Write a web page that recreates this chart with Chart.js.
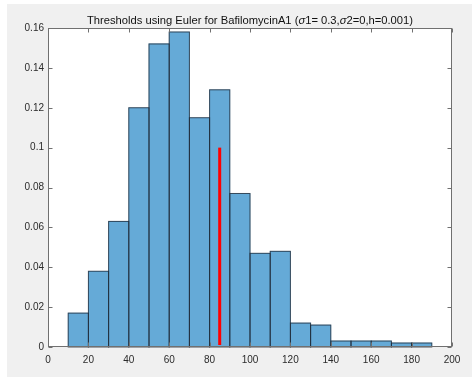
<!DOCTYPE html>
<html>
<head>
<meta charset="utf-8">
<script src="https://cdn.jsdelivr.net/npm/chart.js@4.4.1/dist/chart.umd.min.js"></script>
<style>
  html, body { margin: 0; padding: 0; background: #ffffff; }
  #wrap { position: relative; width: 472px; height: 377px; }
  canvas { display: block; }
</style>
</head>
<body>
<div id="wrap"><canvas id="c" width="472" height="377"></canvas></div>
<script>
// Histogram bins (left edges, width 10) and normalized counts
const binEdges = [10, 20, 30, 40, 50, 60, 70, 80, 90, 100, 110, 120, 130, 140, 150, 160, 170, 180];
const binWidth = 10;
const probabilities = [0.017, 0.038, 0.063, 0.120, 0.152, 0.158, 0.115, 0.129, 0.077, 0.047, 0.048, 0.012, 0.011, 0.003, 0.003, 0.003, 0.002, 0.002];

// Threshold marker
const thresholdX = 85;
const thresholdY = [0.001, 0.1];

// Axis ticks
const xTicks = [0, 20, 40, 60, 80, 100, 120, 140, 160, 180, 200];
const yTicks = [0, 0.02, 0.04, 0.06, 0.08, 0.1, 0.12, 0.14, 0.16];

const titleParts = [
  { t: 'Thresholds using Euler for BafilomycinA1 (', italic: false },
  { t: 'σ', italic: true },
  { t: '1= 0.3,', italic: false },
  { t: 'σ', italic: true },
  { t: '2=0,h=0.001)', italic: false }
];

const FONT = '"Liberation Sans", Arial, Helvetica, sans-serif';
const TEXT = '#2b2b2b';
const AXIS = '#707070';

const histData = binEdges.map((e, i) => ({ x: e + binWidth / 2, y: probabilities[i] }));
const lineData = thresholdY.map(y => ({ x: thresholdX, y }));

// Figure background, axes box, tick marks, bar outlines and title
const figurePlugin = {
  id: 'figure',
  beforeDraw(chart) {
    const { ctx, chartArea: a } = chart;
    ctx.save();
    ctx.fillStyle = '#ffffff';
    ctx.fillRect(0, 0, chart.width, chart.height);
    ctx.fillStyle = '#f0f0f0';
    ctx.fillRect(7, 4, chart.width - 7, chart.height - 4);
    ctx.fillStyle = '#ffffff';
    ctx.fillRect(a.left, a.top, a.right - a.left, a.bottom - a.top);
    ctx.restore();
  },
  afterDatasetDraw(chart, args) {
    if (args.index !== 0) return;
    const { ctx } = chart;
    const meta = chart.getDatasetMeta(0);
    ctx.save();
    ctx.strokeStyle = 'rgba(30,40,52,0.78)';
    ctx.lineWidth = 1;
    meta.data.forEach(bar => {
      const p = bar.getProps(['x', 'y', 'base', 'width'], true);
      const l = p.x - p.width / 2, r = p.x + p.width / 2;
      ctx.strokeRect(l, p.y, r - l, p.base - p.y);
    });
    ctx.restore();
  },
  afterDraw(chart) {
    const { ctx, chartArea: a, scales } = chart;
    ctx.save();
    ctx.strokeStyle = AXIS;
    ctx.lineWidth = 1;
    const L = Math.round(a.left) + 0.5, R = Math.round(a.right) - 0.5;
    const T = Math.round(a.top) + 0.5, B = Math.round(a.bottom) - 0.5;
    ctx.strokeRect(L, T, R - L, B - T);
    const tl = 4;
    ctx.beginPath();
    xTicks.forEach(v => {
      const x = Math.round(scales.x.getPixelForValue(v)) + 0.5;
      ctx.moveTo(x, B); ctx.lineTo(x, B - tl);
      ctx.moveTo(x, T); ctx.lineTo(x, T + tl);
    });
    yTicks.forEach(v => {
      const y = Math.round(scales.y.getPixelForValue(v)) + 0.5;
      ctx.moveTo(L, y); ctx.lineTo(L + tl, y);
      ctx.moveTo(R, y); ctx.lineTo(R - tl, y);
    });
    ctx.stroke();

    // title with italic sigma
    const size = 11.2;
    const fontFor = p => (p.italic ? 'italic ' : '') + size + 'px ' + FONT;
    let total = 0;
    titleParts.forEach(p => { ctx.font = fontFor(p); total += ctx.measureText(p.t).width; });
    let x = (a.left + a.right) / 2 - total / 2;
    ctx.fillStyle = '#111111';
    ctx.textBaseline = 'alphabetic';
    ctx.textAlign = 'left';
    titleParts.forEach(p => {
      ctx.font = fontFor(p);
      ctx.fillText(p.t, x, 24);
      x += ctx.measureText(p.t).width;
    });
    ctx.restore();
  }
};

new Chart(document.getElementById('c'), {
  type: 'bar',
  data: {
    datasets: [
      {
        type: 'bar',
        data: histData,
        backgroundColor: 'rgb(101,170,215)',
        borderWidth: 0,
        barPercentage: 1,
        categoryPercentage: 1,
        order: 2
      },
      {
        type: 'line',
        data: lineData,
        borderColor: '#ff0000',
        borderWidth: 3,
        pointRadius: 0,
        fill: false,
        borderCapStyle: 'butt',
        order: 1
      }
    ]
  },
  plugins: [figurePlugin],
  options: {
    responsive: false,
    animation: false,
    events: [],
    layout: { padding: { left: 0, right: 20, top: 28, bottom: 0 } },
    plugins: { legend: { display: false }, title: { display: false }, tooltip: { enabled: false } },
    scales: {
      x: {
        type: 'linear',
        min: 0, max: 200,
        offset: false,
        grid: { display: false, drawTicks: false },
        border: { display: false },
        afterBuildTicks: s => { s.ticks = xTicks.map(v => ({ value: v })); },
        afterFit: s => { s.height = 30; },
        ticks: {
          padding: 7,
          maxRotation: 0,
          autoSkip: false,
          color: TEXT,
          font: { family: FONT, size: 10 },
          callback: v => String(v)
        }
      },
      y: {
        type: 'linear',
        min: 0, max: 0.16,
        grid: { display: false, drawTicks: false },
        border: { display: false },
        afterBuildTicks: s => { s.ticks = yTicks.map(v => ({ value: v })); },
        afterFit: s => { s.width = 48; },
        ticks: {
          padding: 4,
          autoSkip: false,
          color: TEXT,
          font: { family: FONT, size: 10 },
          callback: v => String(parseFloat(v.toFixed(4)))
        }
      }
    }
  }
});
</script>
</body>
</html>
